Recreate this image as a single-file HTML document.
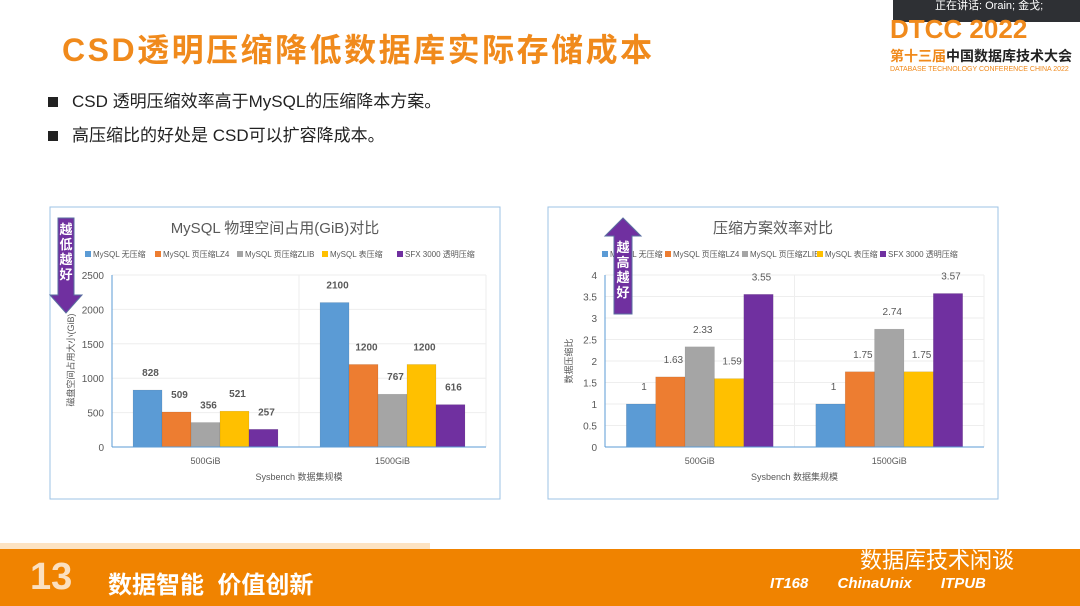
<!DOCTYPE html>
<html><head><meta charset="utf-8">
<style>
body{margin:0;width:1080px;height:606px;overflow:hidden;background:#fff;font-family:"Liberation Sans","Noto Sans CJK SC",sans-serif;position:relative}
.abs{position:absolute}
</style></head><body>
<div class="abs" style="left:62px;top:25px;font-size:32px;font-weight:bold;color:#f08a1c;letter-spacing:2.5px;font-family:'Liberation Sans','Noto Sans CJK SC',sans-serif">CSD透明压缩降低数据库实际存储成本</div>
<div class="abs" style="left:48px;top:87px;font-size:17px;color:#222"><span style="display:inline-block;width:10px;height:10px;background:#222;margin-right:14px"></span>CSD 透明压缩效率高于MySQL的压缩降本方案。</div>
<div class="abs" style="left:48px;top:121px;font-size:17px;color:#222"><span style="display:inline-block;width:10px;height:10px;background:#222;margin-right:14px"></span>高压缩比的好处是 CSD可以扩容降成本。</div>
<div class="abs" style="left:893px;top:0;width:187px;height:22px;background:#2e3034;color:#fff;font-size:11px;line-height:12px;padding-left:42px;box-sizing:border-box">正在讲话: Orain; 金戈;</div>
<div class="abs" style="left:890px;top:16px;color:#f08a1c;font-size:26px;font-weight:bold;line-height:26px">DTCC 2022</div>
<div class="abs" style="left:890px;top:46px;font-size:14px;font-weight:bold;color:#222"><span style="color:#f08a1c">第十三届</span>中国数据库技术大会</div>
<div class="abs" style="left:890px;top:66px;font-size:7px;color:#f08a1c">DATABASE TECHNOLOGY CONFERENCE CHINA 2022</div>

<svg class="abs" style="left:0;top:0" width="1080" height="606" id="sv"></svg>

<div class="abs" style="left:0;top:543px;width:430px;height:8px;background:#fde3c2"></div>
<div class="abs" style="left:0;top:549px;width:1080px;height:57px;background:#f08300"></div>
<div class="abs" style="left:30px;top:556px;font-size:38px;font-weight:bold;color:#fbe0c0">13</div>
<div class="abs" style="left:108px;top:565px;font-size:24px;font-weight:bold;color:#fff">数据智能&nbsp; 价值创新</div>
<div class="abs" style="left:860px;top:543px;font-size:22px;color:#fff">数据库技术闲谈</div>
<div class="abs" style="left:770px;top:575px;font-size:15px;font-weight:bold;font-style:italic;color:#fff">IT168 &nbsp; &nbsp; &nbsp; ChinaUnix &nbsp; &nbsp; &nbsp; ITPUB</div>

<script>
const categories=["500GiB","1500GiB"];
const seriesNames=["MySQL 无压缩","MySQL 页压缩LZ4","MySQL 页压缩ZLIB","MySQL 表压缩","SFX 3000 透明压缩"];
const colors=["#5b9bd5","#ed7d31","#a5a5a5","#ffc000","#7030a0"];
const leftS1=[828,2100];
const leftS2=[509,1200];
const leftS3=[356,767];
const leftS4=[521,1200];
const leftS5=[257,616];
const leftTicks=[0,500,1000,1500,2000,2500];
const rightS1=[1,1];
const rightS2=[1.63,1.75];
const rightS3=[2.33,2.74];
const rightS4=[1.59,1.75];
const rightS5=[3.55,3.57];
const rightTicks=[0,0.5,1,1.5,2,2.5,3,3.5,4];
const sv=document.getElementById('sv');
const NS='http://www.w3.org/2000/svg';
function el(t,a,txt){const e=document.createElementNS(NS,t);for(const k in a)e.setAttribute(k,a[k]);if(txt!==undefined)e.textContent=txt;sv.appendChild(e);return e;}
function chart(o){
  const b=el('rect',{x:o.bx,y:207,width:450,height:292,fill:'#fff',stroke:'#9dc3e6','stroke-width':1});
  
  const t=el('text',{x:o.bx+225,y:233,'text-anchor':'middle','font-size':15,fill:'#595959'},o.title);
  
  const lx=o.legX;
  seriesNames.forEach((n,i)=>{
    const r=el('rect',{x:lx[i],y:251,width:6,height:6,fill:colors[i]});
    
    const tx=el('text',{x:lx[i]+8,y:257,'font-size':8,fill:'#595959'},n);
    
  });
  const x0=o.px0,x1=o.px1,y0=447,yT=275,max=o.ticks[o.ticks.length-1];
  const Y=v=>y0-(v/max)*(y0-yT);
  o.ticks.forEach(v=>{
    const g=el('line',{x1:x0,x2:x1,y1:Y(v),y2:Y(v),stroke:'#eeeeee'});
    
    const tl=el('text',{x:x0-8,y:Y(v)+4,'text-anchor':'end','font-size':10,fill:'#595959'},String(v));
    
  });
  const cw=(x1-x0)/categories.length,bw=cw*0.155;
  categories.forEach((c,ci)=>{
    const cx=x0+cw*(ci+0.5);
    const s=cx-bw*2.5;
    el('line',{x1:x0+cw*(ci+1),x2:x0+cw*(ci+1),y1:yT,y2:y0,stroke:'#eeeeee'});
    o.series.forEach((arr,si)=>{
      const v=arr[ci],x=s+si*bw;
      const r=el('rect',{x:x,y:Y(v),width:bw,height:y0-Y(v),fill:colors[si],stroke:'rgba(0,0,0,0.15)','stroke-width':0.5});
      
      const lb=el('text',{x:x+bw/2+3,y:Y(v)-14,'text-anchor':'middle','font-size':10,'font-weight':o.bold?'bold':'normal',fill:'#595959'},String(v));
      
    });
    const xl=el('text',{x:cx,y:464,'text-anchor':'middle','font-size':9,fill:'#595959'},c);
    
  });
  el('line',{x1:x0,x2:x1,y1:y0,y2:y0,stroke:'#5b9bd5','stroke-width':1});
  el('line',{x1:x0,x2:x0,y1:yT,y2:y0,stroke:'#5b9bd5','stroke-width':1});
  const at=el('text',{x:(x0+x1)/2,y:480,'text-anchor':'middle','font-size':9,fill:'#595959'},'Sysbench 数据集规模');
  
  const yt=el('text',{x:0,y:0,'text-anchor':'middle','font-size':9,fill:'#595959',transform:`translate(${o.ytx},${o.yty}) rotate(-90)`},o.ytitle);
  
}
chart({id:'left-chart',bx:50,title:'MySQL 物理空间占用(GiB)对比',legX:[85,155,237,322,397],px0:112,px1:486,ticks:leftTicks,series:[leftS1,leftS2,leftS3,leftS4,leftS5],ytitle:'磁盘空间占用大小(GiB)',ytx:74,yty:360,bold:true});
chart({id:'right-chart',bx:548,title:'压缩方案效率对比',legX:[602,665,742,817,880],px0:605,px1:984,ticks:rightTicks,series:[rightS1,rightS2,rightS3,rightS4,rightS5],ytitle:'数据压缩比',ytx:572,yty:361,bold:false});
const a1=el('polygon',{points:'58,218 74,218 74,295 82,295 66,313 50,295 58,295',fill:'#7030a0',stroke:'#5a6fa0','stroke-width':1});

['越','低','越','好'].forEach((c,i)=>{const t=el('text',{x:66,y:234+i*15,'text-anchor':'middle','font-size':13,'font-weight':'bold',fill:'#fff'},c);});
const a2=el('polygon',{points:'614,314 632,314 632,236 641,236 623,218 605,236 614,236',fill:'#7030a0',stroke:'#5a6fa0','stroke-width':1});

['越','高','越','好'].forEach((c,i)=>{const t=el('text',{x:623,y:252+i*15,'text-anchor':'middle','font-size':13,'font-weight':'bold',fill:'#fff'},c);});
</script>
</body></html>
